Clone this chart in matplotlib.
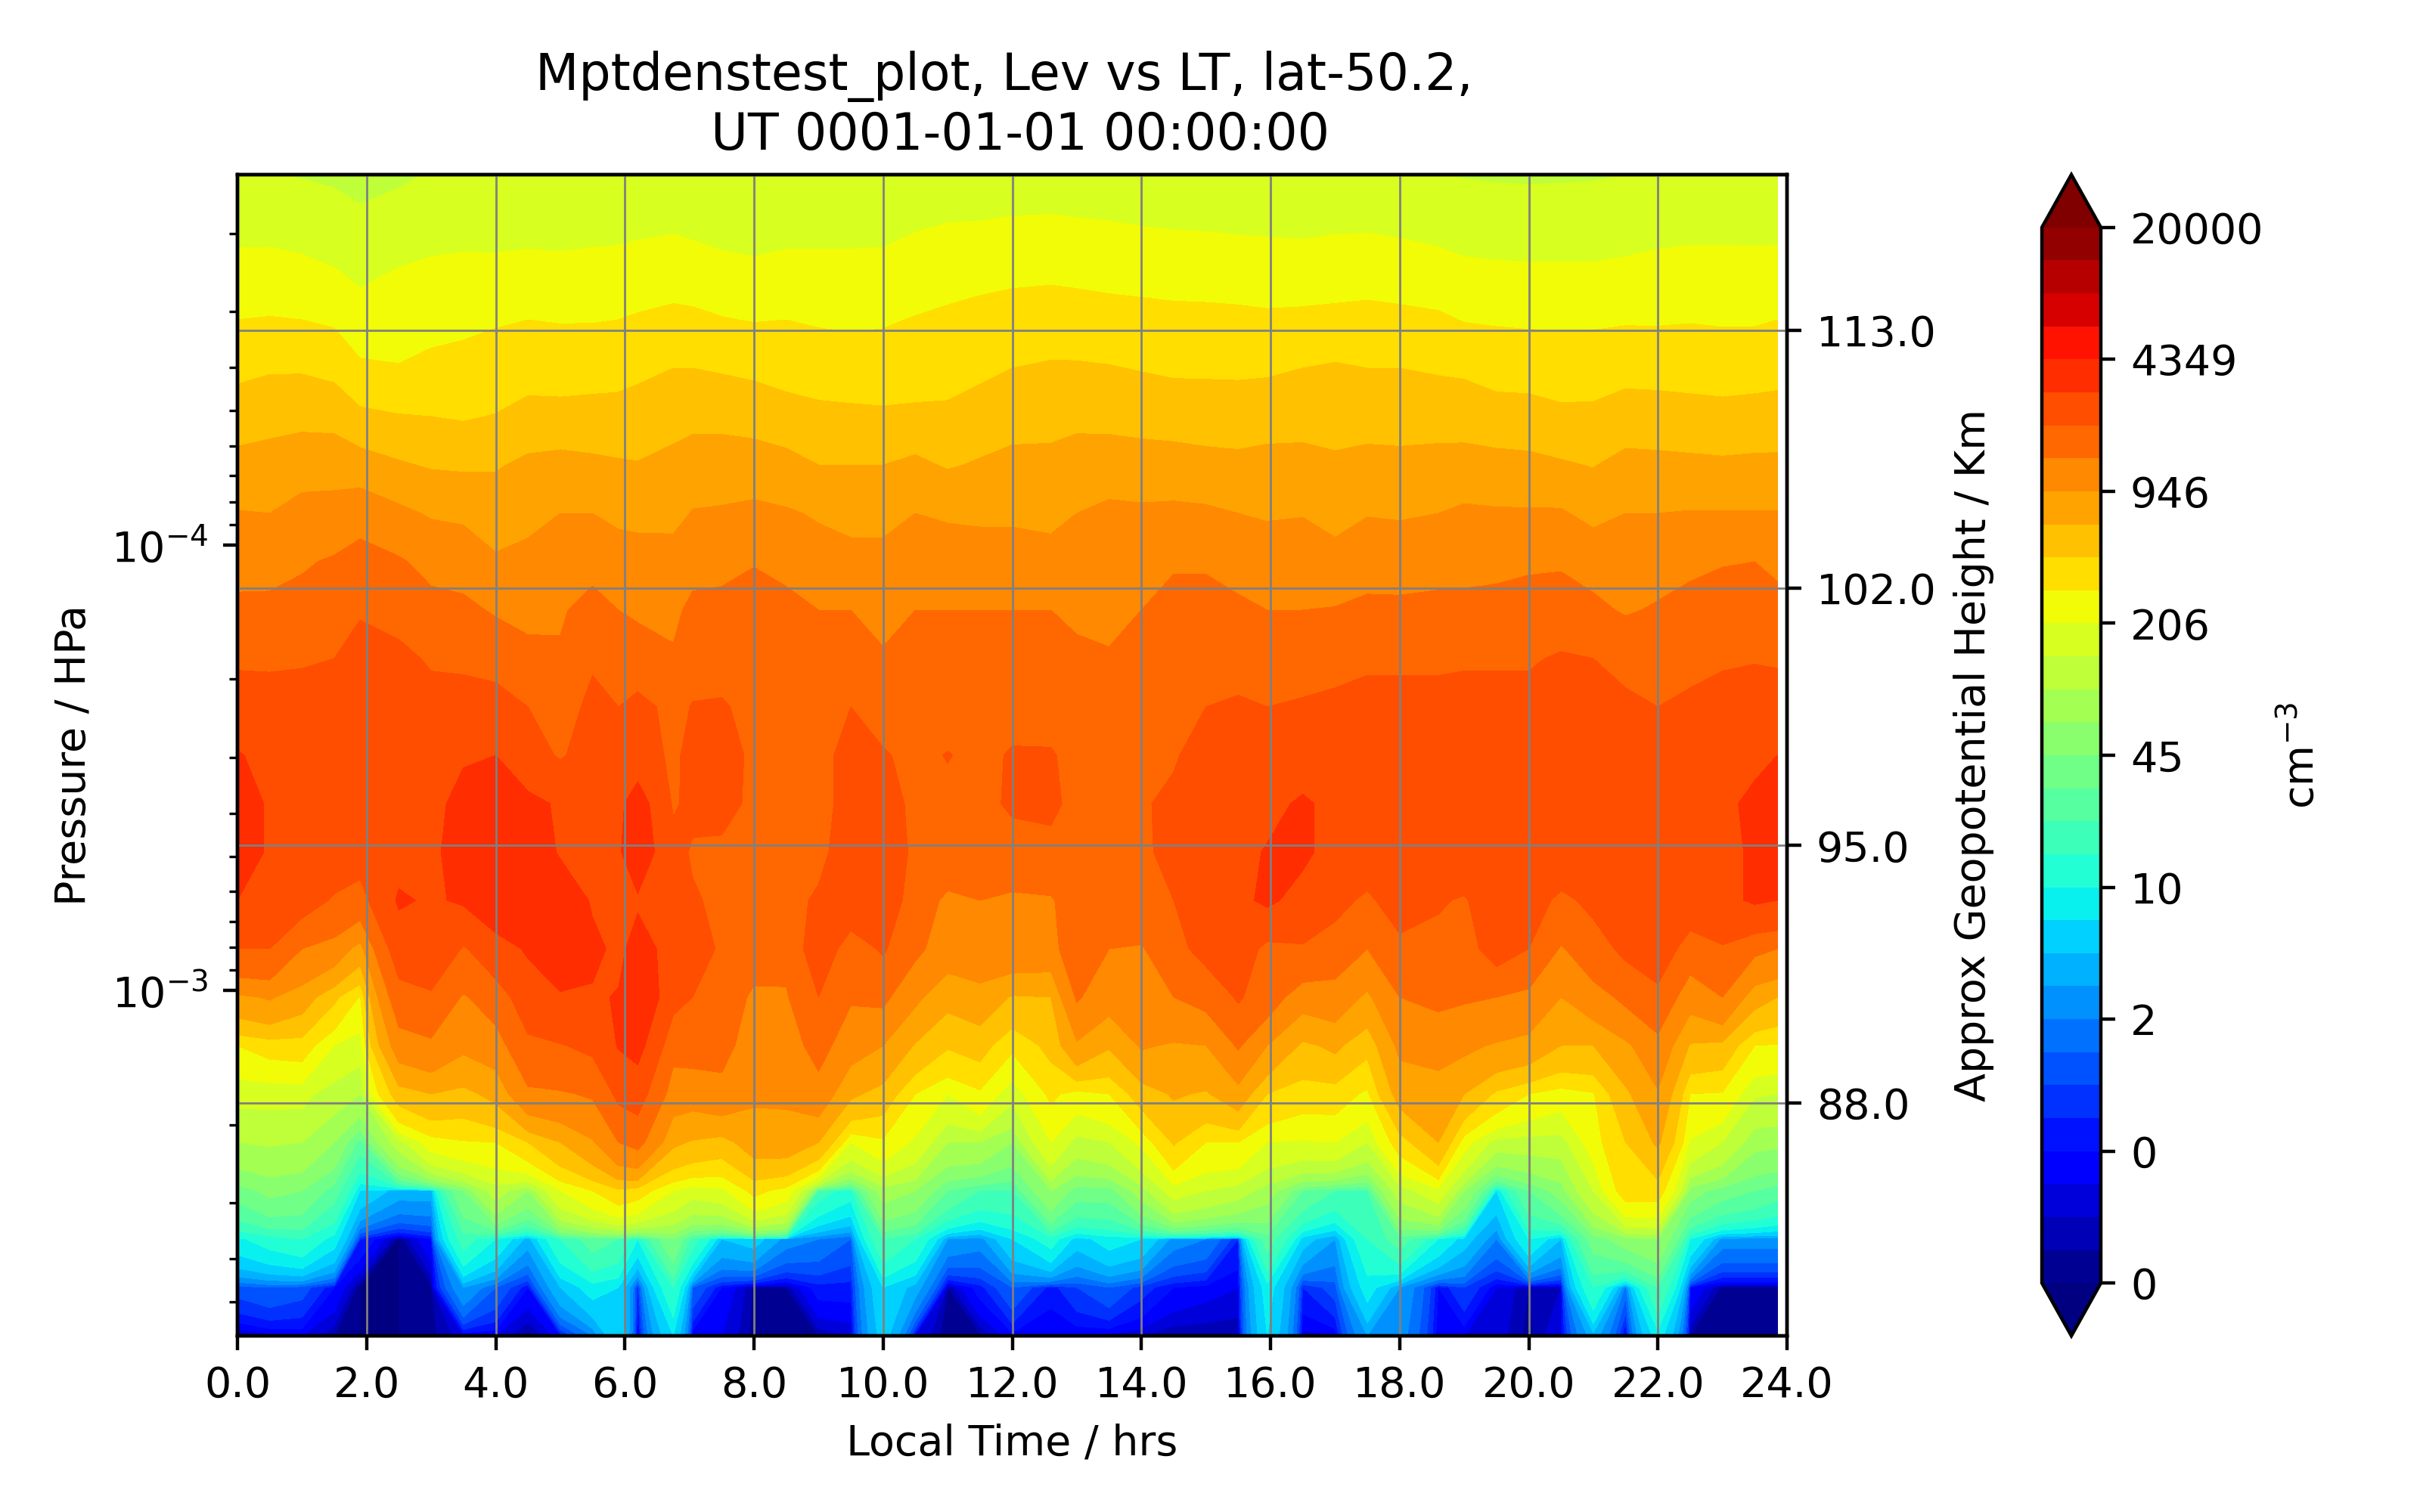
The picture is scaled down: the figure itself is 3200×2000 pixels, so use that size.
import numpy as np
import matplotlib
matplotlib.use("Agg")
import matplotlib.pyplot as plt
from matplotlib.colors import LogNorm
from matplotlib.ticker import NullLocator

# Local time of each data column (hours)
local_time = [0, .5, 1, 1.5, 1.9, 2.5, 3, 3.5, 4, 4.5, 5, 5.5, 5.9, 6.2, 6.75, 7.05, 7.5, 8, 8.5, 9, 9.5, 10, 10.5, 11, 11.5,
              12, 12.6, 13, 13.5, 14, 14.5, 15, 15.5, 15.95, 16.5, 17, 17.5, 18, 18.6, 19, 19.5, 20, 20.5, 21, 21.5, 22,
              22.5, 23, 23.5, 23.85]

# log10(pressure / hPa) of the bottom level and level step
log_p_bottom = -2.225
log_p_step = -0.10857

# Density, in colour-band units (0 = 0.1 cm-3, 32 = 20000 cm-3); each list is one level, top first
lev24 = [19.05,19.03,18.95,18.85,18.7,18.85,19.05,19.1,19.1,19.1,19.1,19.15,19.15,19.15,19.2,19.1,19.0,18.97,19.05,19.1,19.1,19.15,19.3,19.35,19.35,19.4,19.4,19.35,19.3,19.25,19.25,19.2,19.15,19.15,19.1,19.15,19.15,19.1,19.0,18.95,18.9,18.88,18.9,18.93,19.0,19.05,19.1,19.1,19.1,19.1]
lev23 = [19.65,19.65,19.55,19.4,19.2,19.4,19.55,19.62,19.6,19.65,19.65,19.7,19.7,19.78,19.85,19.75,19.6,19.55,19.65,19.65,19.65,19.7,19.9,20,20.03,20.1,20.13,20.08,20.03,19.95,19.9,19.88,19.82,19.8,19.77,19.85,19.85,19.8,19.65,19.55,19.5,19.47,19.47,19.47,19.55,19.65,19.7,19.7,19.68,19.7]
lev22 = [20.33,20.35,20.25,20.05,19.8,20.05,20.2,20.25,20.25,20.3,20.25,20.3,20.35,20.4,20.5,20.45,20.3,20.2,20.3,20.3,20.3,20.3,20.45,20.55,20.65,20.75,20.8,20.75,20.7,20.65,20.6,20.55,20.55,20.5,20.45,20.5,20.55,20.45,20.35,20.2,20.15,20.13,20.13,20.13,20.2,20.3,20.35,20.35,20.35,20.35]
lev21 = [21,21.05,21,20.85,20.4,20.55,20.8,20.9,20.95,21,20.95,20.95,21,21.1,21.25,21.2,21.05,20.95,21,20.9,20.85,20.9,21.05,21.2,21.35,21.45,21.5,21.45,21.35,21.3,21.25,21.25,21.2,21.15,21.2,21.25,21.3,21.25,21.15,20.95,20.9,20.85,20.85,20.85,20.9,20.9,20.95,20.9,20.9,21]
lev20 = [21.75,21.9,21.9,21.7,21.15,21.05,21.15,21.15,21.25,21.6,21.55,21.65,21.65,21.8,22,22,21.9,21.8,21.6,21.5,21.45,21.45,21.5,21.6,21.8,22,22.1,22.1,22.05,21.95,21.85,21.85,21.85,21.85,22,22.1,22,22,21.9,21.85,21.6,21.6,21.5,21.55,21.7,21.65,21.6,21.55,21.6,21.65]
lev19 = [22.5,22.65,22.7,22.65,22.2,22.05,22,21.9,22.05,22.3,22.3,22.3,22.35,22.4,22.6,22.7,22.7,22.55,22.4,22.25,22.2,22.15,22.2,22.2,22.4,22.65,22.7,22.75,22.7,22.6,22.55,22.5,22.45,22.6,22.65,22.65,22.6,22.6,22.55,22.5,22.4,22.35,22.2,22.2,22.4,22.4,22.35,22.3,22.35,22.4]
lev18 = [23.3,23.4,23.6,23.6,23.4,23.1,22.9,22.85,22.9,23.2,23.3,23.2,23.1,23.05,23.3,23.5,23.5,23.5,23.3,23,23,23,23.2,22.9,23.1,23.25,23.25,23.45,23.5,23.45,23.4,23.3,23.25,23.3,23.3,23.15,23.3,23.25,23.35,23.4,23.3,23.25,23.1,22.95,23.3,23.25,23.2,23.15,23.2,23.2]
lev17 = [24.05,24.0,24.3,24.35,24.6,24.2,23.9,23.8,23.6,23.8,24,24.0,23.75,23.8,23.7,24.05,24.1,24.2,24.1,23.9,23.7,23.7,24,23.9,23.8,23.8,23.7,24,24.2,24.15,24.2,24.15,24,23.9,23.95,23.65,23.95,23.9,24,24.15,24.1,24.1,24.1,23.7,24,24,24.05,24.05,24.05,24.05]
lev16 = [24.67,24.7,24.9,25.1,25.35,25.1,24.7,24.6,24.1,24.2,24.5,24.7,24.5,24.3,24.4,24.7,24.8,24.95,24.8,24.4,24.3,24.3,24.6,24.4,24.5,24.5,24.4,24.5,24.6,24.7,24.9,24.9,24.7,24.5,24.55,24.35,24.6,24.55,24.65,24.7,24.75,24.85,24.9,24.65,24.4,24.6,24.8,24.95,25,24.8]
lev15 = [25.2,25.2,25.3,25.6,25.9,25.7,25.3,25.2,24.9,24.8,24.9,25.3,25.0,24.9,24.8,25.2,25.2,25.4,25.2,25,25,24.7,25,25,25,25,25,24.7,24.7,25,25.3,25.3,25.15,25,25,25.05,25.2,25.2,25.25,25.25,25.3,25.4,25.4,25.2,24.9,25.1,25.3,25.4,25.5,25.3]
lev14 = [25.8,25.8,25.9,26,26.4,26.2,25.9,25.8,25.6,25.2,25.1,25.9,25.6,25.3,25.1,25.6,25.6,25.9,25.6,25.6,25.6,25.1,25.6,25.6,25.6,25.5,25.5,25.3,25.1,25.5,25.7,25.7,25.7,25.6,25.6,25.7,25.9,25.9,25.9,25.9,25.9,25.9,26.1,26,25.7,25.3,25.7,25.9,25.95,25.9]
lev13 = [26.6,26.5,26.4,26.5,26.6,26.5,26.3,26.4,26.4,26,25.6,26.2,26,26.3,25.7,26.05,26.1,25.7,25.3,25.4,26,25.5,25.6,25.5,25.5,25.6,25.5,25.4,25.4,25.5,25.7,26,26.1,26,26.1,26.2,26.2,26.2,26.2,26.3,26.3,26.3,26.5,26.5,26.2,26,26.2,26.3,26.4,26.4]
lev12 = [27.05,26.8,26.7,26.7,26.9,26.8,26.6,26.9,27,26.4,25.9,26.4,26.6,26.5,25.8,26.3,26.4,25.8,25.5,25.7,26.3,26.1,25.7,26.05,25.7,26.1,26.1,25.6,25.6,25.7,25.9,26.4,26.6,26.6,26.6,26.6,26.6,26.6,26.7,26.7,26.7,26.7,26.8,26.8,26.5,26.3,26.5,26.7,26.9,27]
lev11 = [27.4,26.9,26.8,26.8,26.8,26.8,26.7,27.3,27.8,27.2,26.9,26.6,26.8,27.4,25.9,26.2,26.3,25.8,25.6,25.7,26.3,26.5,25.7,25.7,25.8,26.1,26.2,25.7,25.8,25.9,26.2,26.5,26.7,26.8,27.1,26.8,26.7,26.8,26.7,26.7,26.8,26.8,26.8,26.8,26.7,26.6,26.8,26.9,27.1,27.4]
lev10 = [27.4,26.9,26.6,26.5,26.4,26.7,26.8,27.4,27.9,27.6,26.9,26.9,26.9,27.5,26.3,25.9,25.8,25.8,25.6,25.6,26.7,26.8,25.7,25.6,25.7,25.7,25.7,25.7,25.7,25.8,26.3,26.7,26.8,27.05,27.15,26.7,26.6,26.7,26.7,26.7,26.7,26.7,26.6,26.7,26.6,26.6,26.7,26.8,27.1,27.4]
lev09 = [27,26.6,26.4,25.9,25.6,27.1,26.9,27.1,27.6,27.8,27.6,26.9,26.8,26.9,26.8,26.1,25.8,25.7,25.5,26.2,26.5,26.6,25.5,24.8,25,24.8,24.9,25.5,25.6,25.8,26,26.6,26.8,27.15,26.7,26.3,25.8,26.5,26.1,25.9,26.6,26.4,25.8,26.2,26.7,26.9,26.6,26.8,27.1,27]
lev08 = [26,26,25,24.6,23.6,26.5,26.9,25.9,26.6,27.1,27.6,27.2,26.8,27.3,26.7,26.6,25.8,25.5,25.3,26.5,25.6,26.1,25.2,24.5,24.7,24.7,24.6,25.7,25,24.9,25.7,26.3,26.6,25.7,25.9,25.5,25,25.7,25.7,25.6,26.4,26,24.9,25.6,26.2,26.6,25.5,25.9,25.2,25]
lev07 = [23.8,24.1,23.5,22.2,20.9,25.6,25.8,24.9,25.5,26.5,26.9,26.9,27.05,27.8,26.3,26,25.6,24.8,24.9,26,25.1,25.2,24.2,23.3,23.6,22.9,23,25.1,24.4,24.6,25,25.3,26.1,25.5,24.4,24.6,23.8,25,25.2,25.1,25,24.7,24,24.6,25.2,25.7,24.4,25,23.4,23]
lev06 = [21,21.4,21.5,20,19.5,24.5,24.8,24.2,24.5,25.8,25.95,26.2,27.05,27.3,25.3,25.4,25.3,24.5,24.5,25.35,24.4,24,22.9,22.1,22.4,21.2,22.3,23.85,23.1,24.1,23.9,24,25.1,24,22.8,23.2,22.3,24.2,24.4,24.2,23.9,23.7,23,23,23.8,24.7,22.9,22.7,21,20.9]
lev05 = [19.3,19.3,19.3,18.5,18,22.5,23,22.7,23.3,24.8,24.9,25.1,26.2,26.4,24.5,24.4,24.7,24.15,24.15,24.6,23.2,22.6,21,20,20.8,19.3,21.2,20.6,21,22.5,23.1,22.9,23.6,22,21.5,21.5,20.8,23.4,23.5,23,21.8,21,20.5,20.9,22.8,23.9,21,20.9,19.1,19]
lev04 = [18,18.1,18,17,14.5,18.5,20.5,20.9,21,22,23,23.9,25,25.3,23.2,22.9,22.6,23.5,23.6,23,20,20.8,19.8,18,18,17,20,18.6,19,20.2,22.1,21,21,20,19.9,20,19,21.5,23,20.4,18.5,18.5,18.5,20.5,22,23.15,19.9,19,17.3,17.2]
lev03 = [15.5,16.3,16,14.5,11,9.5,9.5,16,18.5,17,20,21,21.8,21.5,20,19.4,19.7,21.3,20.6,13.5,12.5,17.5,17,15,14,14,17,15.5,15.5,17.5,19.5,19,18.5,17.5,15,14,14,18.5,19.7,17,11,15,16.5,19,21.5,21.5,16.5,15.5,15,14.5]
lev02 = [11.8,12.5,13,11.5,5,0,4,13.5,12,9.5,13,14.5,14,12,16,13.5,10,10.5,8.5,8,7,14,13,9,8.5,11,12.5,10.5,11.5,11,8.5,8,5,14.5,10.5,9,13,14.5,12,10.5,8,12,10,15.5,16.5,17,12,8.5,8.5,8.5]
lev01 = [6.5,7,6.5,4,0,0,0.5,9,7,4,10,11.5,11,5,13,7,4,0.5,1,4.5,4.5,11,9.5,1,4.5,7,4.5,6,7,5.5,4,3.5,3,11.5,5,6.5,11.5,9,4,6,3,1,2,13,7.5,14,4,0.5,0.5,0.5]
lev00 = [1,2.5,3,1,0,0,0.5,2.5,3,0,3.5,8,11,2.5,11,3,3,0.5,1,1,2,10.5,3,0,0.5,3.5,3,3,2.5,2,1,1,1,11,2.5,3,9,8.5,3,3,2.5,0.5,3,9.5,2.5,11.5,1,0,0,0]

band_table = [lev00, lev01, lev02, lev03, lev04, lev05, lev06, lev07, lev08, lev09, lev10, lev11, lev12,
              lev13, lev14, lev15, lev16, lev17, lev18, lev19, lev20, lev21, lev22, lev23, lev24]

cbar_tick_labels = ['0', '0', '2', '10', '45', '206', '946', '4349', '20000']
height_labels = ['113.0', '102.0', '95.0', '88.0']
height_pressures = [3.30e-5, 1.25e-4, 4.73e-4, 1.79e-3]
lt_ticks = [0, 2, 4, 6, 8, 10, 12, 14, 16, 18, 20, 22, 24]

levels = np.logspace(-1, np.log10(20000), 33)
bands = np.array(band_table, dtype=float)
density = 10 ** (-1 + bands * (np.log10(20000) + 1) / 32)
pressure = 10 ** (log_p_bottom + log_p_step * np.arange(bands.shape[0]))

fig = plt.figure(figsize=(8, 5), dpi=400)
ax = fig.add_axes([314 / 3200, 1 - 1767 / 2000, (2363 - 314) / 3200, (1767 - 231) / 2000])
cf = ax.contourf(local_time, pressure, density, levels=levels, cmap='jet',
                 norm=LogNorm(vmin=levels[0], vmax=levels[-1]), extend='both')
ax.set_yscale('log')
ax.set_xlim(0, 24)
ax.set_ylim(pressure[0], pressure[-1])
ax.set_xticks(lt_ticks)
ax.set_xticklabels([f'{t:.1f}' for t in lt_ticks])
ax.set_xlabel('Local Time / hrs')
ax.set_ylabel('Pressure / HPa')
ax.grid(axis='x', color='grey', linewidth=0.5)
ax.set_axisbelow(False)
ax.set_title('Mptdenstest_plot, Lev vs LT, lat-50.2, \n UT 0001-01-01 00:00:00', fontsize=12)

ax2 = ax.twinx()
ax2.set_yscale('log')
ax2.set_ylim(ax.get_ylim())
ax2.set_yticks(height_pressures)
ax2.set_yticklabels(height_labels)
ax2.yaxis.set_minor_locator(NullLocator())
ax2.set_ylabel('Approx Geopotential Height / Km')
ax2.grid(axis='y', color='grey', linewidth=0.5)

cax = fig.add_axes([2700 / 3200, 1 - 1767 / 2000, (2778 - 2700) / 3200, (1767 - 231) / 2000])
cb = fig.colorbar(cf, cax=cax, extend='both')
cb.set_ticks(levels[::4])
cb.set_ticklabels(cbar_tick_labels)
cb.ax.yaxis.set_minor_locator(NullLocator())
cb.set_label('cm$^{-3}$')

fig.savefig('out.png', dpi=400)
